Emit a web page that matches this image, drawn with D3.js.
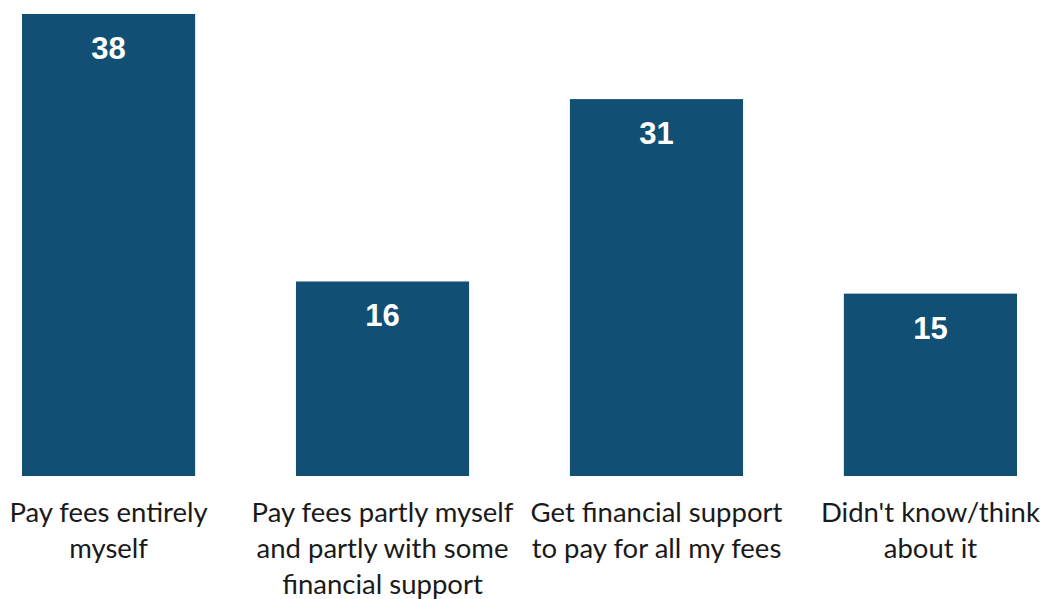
<!DOCTYPE html>
<html>
<head>
<meta charset="utf-8">
<script src="https://cdn.jsdelivr.net/npm/d3@7"></script>
<style>
  html, body { margin: 0; padding: 0; background: #ffffff; }
  svg { display: block; }
</style>
</head>
<body>
<svg id="chart" width="1042" height="599"></svg>
<script>
// Survey answers: how respondents expect to pay their fees (%)
const categories = [
  "Pay fees entirely\nmyself",
  "Pay fees partly myself\nand partly with some\nfinancial support",
  "Get financial support\nto pay for all my fees",
  "Didn't know/think\nabout it"
];
const values = [38, 16, 31, 15];

const width = 1042, height = 599;
const baseline = 476;
const barColor = "#124f74";

const svg = d3.select("#chart");

const x = d3.scaleBand()
  .domain(categories)
  .range([22, 1017])
  .paddingInner(0.368)
  .paddingOuter(0);

const y = d3.scaleLinear()
  .domain([0, 38])
  .range([baseline, 14]);

// Bars
svg.append("g")
  .selectAll("rect")
  .data(values)
  .join("rect")
  .attr("x", (d, i) => x(categories[i]))
  .attr("y", d => y(d))
  .attr("width", x.bandwidth())
  .attr("height", d => baseline - y(d))
  .attr("fill", barColor);

// Value labels inside the top of each bar
svg.append("g")
  .selectAll("text")
  .data(values)
  .join("text")
  .attr("x", (d, i) => x(categories[i]) + x.bandwidth() / 2)
  .attr("y", d => y(d) + 45)
  .attr("text-anchor", "middle")
  .attr("fill", "#ffffff")
  .style("font-family", "'Liberation Sans', Arial, sans-serif")
  .style("font-weight", "bold")
  .style("font-size", "31px")
  .text(d => d);

// Category axis (no line, no ticks), multi-line labels
const axis = svg.append("g")
  .attr("transform", `translate(0,${baseline})`)
  .call(d3.axisBottom(x).tickSize(0).tickPadding(0));
axis.select(".domain").remove();

axis.selectAll(".tick text")
  .style("font-family", "Lato, 'Open Sans', sans-serif")
  .style("font-size", "27.5px")
  .attr("fill", "#1a1a1a")
  .attr("dy", null)
  .attr("y", 0)
  .each(function (d) {
    const t = d3.select(this);
    const lines = d.split("\n");
    t.text(null);
    lines.forEach((line, i) => {
      t.append("tspan")
        .attr("x", 0)
        .attr("y", 46 + i * 35.8)
        .text(line);
    });
  });
</script>
</body>
</html>
